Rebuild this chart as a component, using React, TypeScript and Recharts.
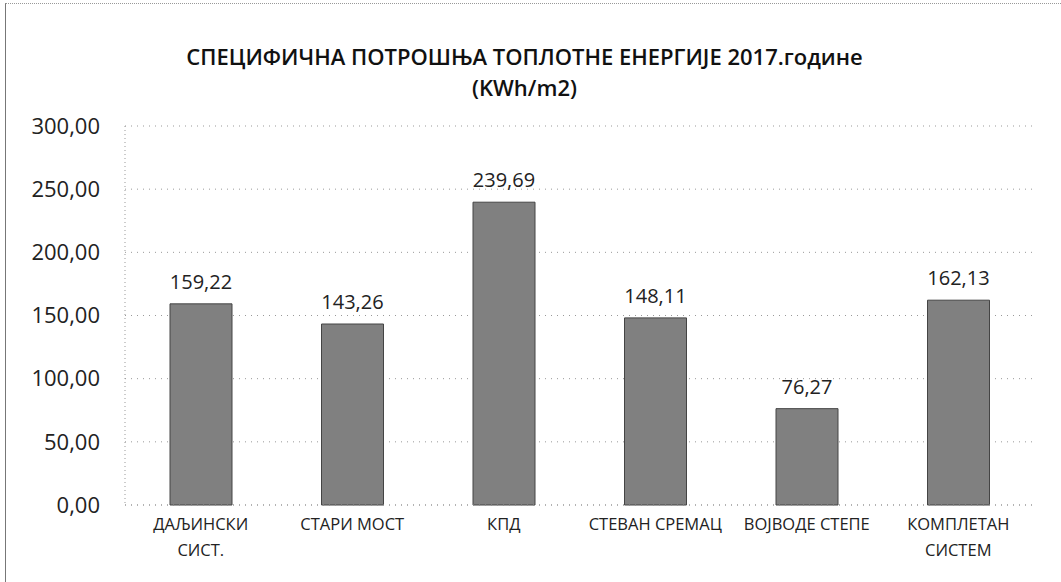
import React from "react";
import { BarChart, Bar, XAxis, YAxis, CartesianGrid, LabelList } from "recharts";

const categories = ["ДАЉИНСКИ\nСИСТ.", "СТАРИ МОСТ", "КПД", "СТЕВАН СРЕМАЦ", "ВОЈВОДЕ СТЕПЕ", "КОМПЛЕТАН\nСИСТЕМ"];
const values = [159.22, 143.26, 239.69, 148.11, 76.27, 162.13];
const yTicks = [0, 50, 100, 150, 200, 250, 300];

const data = categories.map((name, i) => ({ name, value: values[i] }));

const FONT = "'Open Sans', 'Noto Sans', sans-serif";
const fmt = (v: number) => v.toFixed(2).replace(".", ",");

const CategoryTick = ({ x, y, payload }: any) => {
  const lines = String(payload.value).split("\n");
  return (
    <g transform={`translate(${x},${y})`}>
      {lines.map((line, i) => (
        <text
          key={i}
          x={0}
          y={i * 26}
          dy={17}
          textAnchor="middle"
          fontSize={16.5}
          fontFamily={FONT}
          fill="#222"
        >
          {line}
        </text>
      ))}
    </g>
  );
};

export default function App() {
  return (
    <div
      style={{
        position: "absolute",
        left: 0,
        top: 0,
        width: 1061,
        height: 582,
        background: "#fff",
        fontFamily: FONT,
      }}
    >
      <div
        style={{
          position: "absolute",
          left: 5,
          top: 3,
          right: 0,
          bottom: 0,
          borderLeft: "1px solid #777",
          borderTop: "1px dotted #999",
        }}
      />
      <div
        style={{
          position: "absolute",
          left: 0,
          width: 1061,
          top: 41,
          textAlign: "center",
          fontWeight: 600,
          fontSize: 22,
          lineHeight: "31px",
          color: "#111",
        }}
      >
        <div style={{ marginLeft: -12 }}>СПЕЦИФИЧНА ПОТРОШЊА ТОПЛОТНЕ ЕНЕРГИЈЕ 2017.године</div>
        <div style={{ marginLeft: -12 }}>(KWh/m2)</div>
      </div>
      <BarChart
        width={1061}
        height={582}
        data={data}
        margin={{ top: 126, right: 27, left: 20, bottom: 0 }}
        barSize={62}
      >
        <CartesianGrid vertical={false} stroke="#999" strokeDasharray="1 5" />
        <XAxis
          dataKey="name"
          interval={0}
          height={77}
          tickLine={false}
          axisLine={{ stroke: "#999", strokeDasharray: "1 5" }}
          tick={<CategoryTick />}
        />
        <YAxis
          width={105}
          domain={[0, 300]}
          ticks={yTicks}
          tickFormatter={fmt}
          tickLine={false}
          tickSize={0}
          tickMargin={25}
          axisLine={{ stroke: "#999", strokeDasharray: "1 3" }}
          tick={{ fontSize: 22, fill: "#222", fontFamily: FONT }}
        />
        <Bar dataKey="value" fill="#808080" stroke="#444" strokeWidth={1} isAnimationActive={false}>
          <LabelList
            dataKey="value"
            position="top"
            offset={15}
            formatter={(v: any) => fmt(Number(v))}
            style={{ fontSize: 20, fill: "#222", fontFamily: FONT }}
          />
        </Bar>
      </BarChart>
    </div>
  );
}
